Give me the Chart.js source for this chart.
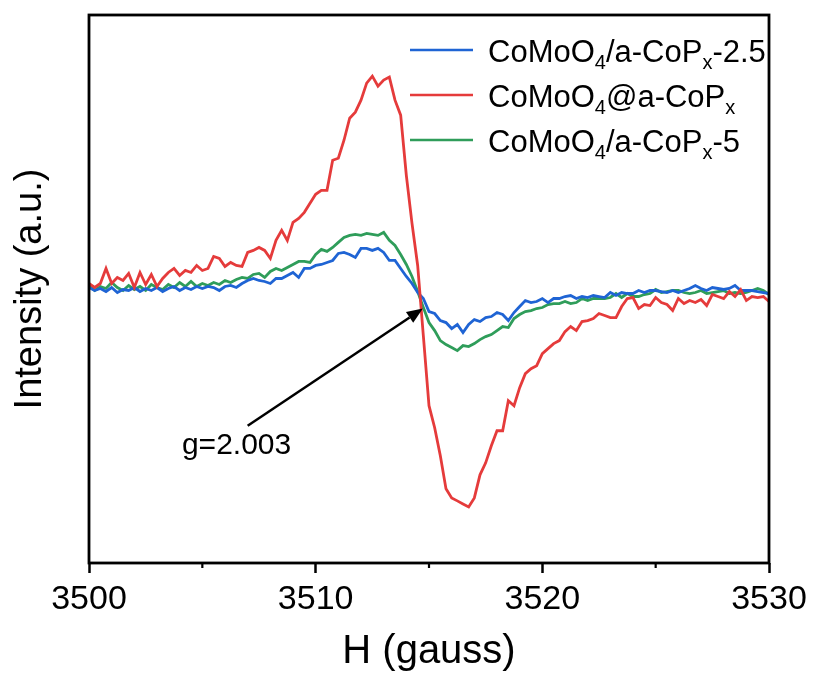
<!DOCTYPE html>
<html>
<head>
<meta charset="utf-8">
<script src="https://cdn.jsdelivr.net/npm/chart.js@4.4.1/dist/chart.umd.min.js"></script>
<style>
  html, body { margin: 0; padding: 0; background: #ffffff; }
  #wrap { width: 813px; height: 684px; position: relative; }
</style>
</head>
<body>
<div id="wrap"><canvas id="epr"></canvas></div>
<script>
// EPR spectra, field grid 3500..3530 G every 0.25 G
const FIELD_START = 3500;
const FIELD_STEP = 0.25;

const seriesNames = ["CoMoO_4/a-CoP_x-2.5", "CoMoO_4@a-CoP_x", "CoMoO_4/a-CoP_x-5"];
const seriesColors = ["#1f64d4", "#e53b3b", "#2f9d5a"];

const blue25 = [
  0, -3, -1, -4, 0, -5, -2, -3, 0, -4, -1, -3, 0, -4, -1, 1, -3, 0, -2, 1,
  -1, 1, 0, -3, 1, 2, 0, 4, 7, 9, 7, 6, 4, 9, 9, 12, 15, 10, 19, 19,
  22, 23, 25, 27, 34, 35, 33, 30, 39, 39, 37, 39, 35, 27, 27, 19, 11, 4, -5, -11,
  -24, -26, -33, -35, -41, -37, -45, -37, -32, -34, -30, -29, -25, -27, -33, -25, -19, -13, -15, -14,
  -11, -15, -11, -11, -9, -8, -11, -9, -10, -8, -9, -10, -5, -8, -5, -6, -6, -3, -5, -3,
  -3, -4, -5, -3, -5, -3, -1, 2, -1, -3, 0, -1, -2, -1, 2, -3, -3, -3, -4, -5,
  -6
];

const redCore = [
  4, 0, 4, 19, 4, 10, 7, 14, 0, 15, 3, 13, 1, 9, 15, 19, 12, 17, 15, 22,
  17, 19, 31, 29, 21, 25, 22, 21, 35, 37, 40, 37, 29, 47, 57, 47, 65, 69, 75, 84,
  93, 97, 97, 127, 129, 147, 169, 175, 187, 204, 211, 201, 207, 210, 187, 172, 112, 64, 22, -48,
  -118, -140, -168, -201, -210, -213, -216, -219, -210, -187, -175, -158, -143, -143, -113, -118, -100, -86, -81, -78,
  -66, -61, -56, -53, -44, -39, -43, -34, -33, -31, -26, -28, -30, -30, -19, -11, -10, -21, -17, -18,
  -10, -15, -17, -23, -11, -16, -13, -15, -12, -18, -7, -9, -11, -4, -9, -2, -13, -9, -10, -9,
  -14
];

const green5 = [
  2, -3, 1, -1, 5, 0, -3, 2, -2, 1, -3, 3, 0, -2, 3, 0, 5, 1, 6, 1,
  4, 2, 5, 3, 7, 5, 8, 10, 9, 13, 14, 10, 16, 19, 17, 20, 23, 26, 26, 25,
  33, 38, 36, 40, 45, 50, 52, 53, 52, 54, 53, 52, 55, 47, 42, 33, 23, 11, -4, -20,
  -35, -43, -53, -57, -60, -63, -58, -59, -56, -52, -49, -47, -43, -39, -40, -31, -27, -24, -23, -21,
  -20, -17, -16, -16, -14, -16, -15, -11, -13, -11, -11, -11, -10, -6, -10, -6, -9, -9, -7, -6,
  -2, -5, -4, -3, -3, -5, -6, -5, -3, -6, -5, -4, -3, -6, -5, -6, -5, -3, -1, -3,
  -7
];

const xTicksMajor = [3500, 3510, 3520, 3530];
const xTicksMinor = [3505, 3515, 3525];

// g-value marker
const gLabel = "g=2.003";
const gArrowFrom = { x: 3507.0, y: -138 };
const gArrowTo = { x: 3514.73, y: -21 };
const gTextAt = { x: 3504.1, y: -166 };

const FONT = "Arial, 'Liberation Sans', sans-serif";

const fields = blue25.map((_, i) => FIELD_START + i * FIELD_STEP);
const toPoints = (vals) => vals.map((v, i) => ({ x: fields[i], y: v }));

const seriesData = [blue25, redCore, green5];
const drawOrder = [1, 0, 2];

// draw text with "_c" marking a subscript character
function drawRichText(ctx, str, x, y, size) {
  let cx = x;
  for (let i = 0; i < str.length; i++) {
    const ch = str[i];
    if (ch === "_" && i + 1 < str.length) {
      const sub = str[i + 1];
      ctx.font = Math.round(size * 0.64) + "px " + FONT;
      ctx.fillText(sub, cx, y + size * 0.24);
      cx += ctx.measureText(sub).width;
      i++;
    } else {
      ctx.font = size + "px " + FONT;
      ctx.fillText(ch, cx, y);
      cx += ctx.measureText(ch).width;
    }
  }
}

const framePlugin = {
  id: "frameAndNotes",
  afterDatasetsDraw(chart) {
    const { ctx, chartArea: a, scales } = chart;
    const xs = scales.x, ys = scales.y;
    ctx.save();

    // box frame
    ctx.strokeStyle = "#000";
    ctx.lineWidth = 2.8;
    ctx.strokeRect(a.left, a.top, a.right - a.left, a.bottom - a.top);

    // minor ticks on bottom axis
    ctx.lineWidth = 2.2;
    xTicksMinor.forEach((v) => {
      const px = xs.getPixelForValue(v);
      ctx.beginPath();
      ctx.moveTo(px, a.bottom);
      ctx.lineTo(px, a.bottom + 5);
      ctx.stroke();
    });

    // legend
    const lx0 = a.left + 321, lx1 = a.left + 384, tx = a.left + 399;
    seriesNames.forEach((name, i) => {
      const ly = a.top + 35 + i * 45;
      ctx.strokeStyle = seriesColors[i];
      ctx.lineWidth = 2.5;
      ctx.beginPath();
      ctx.moveTo(lx0, ly);
      ctx.lineTo(lx1, ly);
      ctx.stroke();
      ctx.fillStyle = "#000";
      ctx.textBaseline = "alphabetic";
      drawRichText(ctx, name, tx, ly + 12, 31);
    });

    // g-value arrow
    const x0 = xs.getPixelForValue(gArrowFrom.x), y0 = ys.getPixelForValue(gArrowFrom.y);
    const x1 = xs.getPixelForValue(gArrowTo.x), y1 = ys.getPixelForValue(gArrowTo.y);
    const ang = Math.atan2(y1 - y0, x1 - x0);
    const headLen = 16, headW = 6.5;
    const bx = x1 - headLen * Math.cos(ang), by = y1 - headLen * Math.sin(ang);
    ctx.strokeStyle = "#000";
    ctx.lineWidth = 2.5;
    ctx.beginPath();
    ctx.moveTo(x0, y0);
    ctx.lineTo(bx, by);
    ctx.stroke();
    ctx.fillStyle = "#000";
    ctx.beginPath();
    ctx.moveTo(x1, y1);
    ctx.lineTo(bx + headW * Math.sin(ang), by - headW * Math.cos(ang));
    ctx.lineTo(bx - headW * Math.sin(ang), by + headW * Math.cos(ang));
    ctx.closePath();
    ctx.fill();

    ctx.font = "30px " + FONT;
    ctx.textBaseline = "alphabetic";
    ctx.fillText(gLabel, xs.getPixelForValue(gTextAt.x), ys.getPixelForValue(gTextAt.y));

    ctx.restore();
  },
};

new Chart(document.getElementById("epr"), {
  type: "line",
  data: {
    datasets: seriesNames.map((name, i) => ({
      label: name.replace(/_/g, ""),
      data: toPoints(seriesData[i]),
      borderColor: seriesColors[i],
      backgroundColor: seriesColors[i],
      borderWidth: 2.8,
      pointRadius: 0,
      tension: 0,
      order: drawOrder[i],
    })),
  },
  options: {
    responsive: true,
    maintainAspectRatio: false,
    animation: false,
    layout: { padding: { left: 0, top: 15, right: 44, bottom: 0 } },
    plugins: {
      legend: { display: false },
      tooltip: { enabled: false },
    },
    scales: {
      x: {
        type: "linear",
        min: 3500,
        max: 3530,
        afterBuildTicks: (s) => { s.ticks = xTicksMajor.map((v) => ({ value: v })); },
        afterFit: (s) => { s.height = 121; },
        border: { display: false },
        grid: {
          drawOnChartArea: false,
          drawTicks: true,
          tickLength: 10,
          tickWidth: 2.5,
          tickColor: "#000",
        },
        ticks: {
          color: "#000",
          padding: 6,
          maxRotation: 0,
          callback: (v) => String(v),
          font: { family: FONT, size: 34 },
        },
        title: {
          display: true,
          text: "H (gauss)",
          color: "#000",
          padding: { top: 0, bottom: 8 },
          font: { family: FONT, size: 40 },
        },
      },
      y: {
        min: -275,
        max: 272,
        afterFit: (s) => { s.width = 89; },
        border: { display: false },
        grid: { display: false },
        ticks: { display: false },
        title: {
          display: true,
          text: "Intensity (a.u.)",
          color: "#000",
          padding: { top: 8, bottom: 0 },
          font: { family: FONT, size: 38 },
        },
      },
    },
  },
  plugins: [framePlugin],
});
</script>
</body>
</html>
